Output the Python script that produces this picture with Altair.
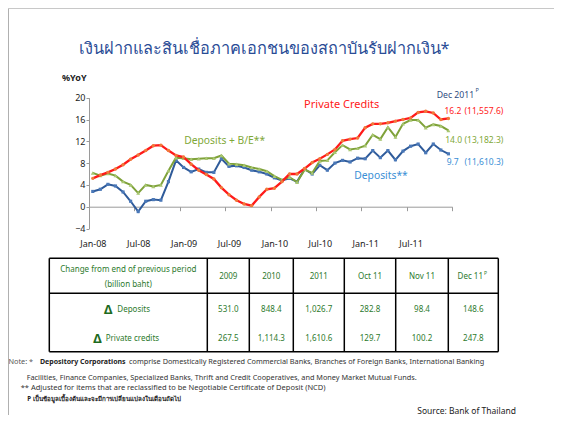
import json
import altair as alt
import pandas as pd

# ---------------- data ----------------
months = pd.date_range("2008-01-01", periods=48, freq="MS").strftime("%b-%y").tolist()

private_credits = [5.2, 5.8, 6.3, 6.9, 7.7, 8.7, 9.5, 10.3, 11.2, 11.3, 10.3, 9.4,
                   9.1, 7.8, 6.7, 5.9, 5.1, 3.5, 2.2, 1.2, 0.5, 0.2, 1.8, 3.2,
                   3.4, 4.6, 6.0, 6.0, 7.0, 8.1, 8.8, 9.6, 10.5, 12.1, 12.4, 12.6,
                   14.5, 15.2, 15.2, 15.4, 15.7, 16.0, 16.3, 17.3, 17.5, 17.2, 16.0, 16.2]

deposits_be = [6.2, 5.7, 6.1, 5.7, 4.6, 4.0, 2.5, 4.0, 3.7, 4.0, 6.6, 9.0,
               8.9, 8.7, 8.8, 8.9, 8.9, 9.4, 7.9, 7.8, 7.6, 7.2, 6.9, 6.5,
               5.6, 4.9, 5.4, 4.5, 6.8, 6.2, 8.4, 8.5, 10.0, 11.3, 10.5, 10.7,
               11.2, 13.2, 12.4, 14.6, 12.8, 15.2, 15.9, 15.9, 14.5, 15.1, 14.8, 14.0]

deposits = [2.8, 3.2, 4.1, 3.8, 2.7, 1.0, -0.9, 1.0, 1.3, 1.2, 4.6, 8.5,
            7.2, 6.4, 6.9, 6.3, 6.3, 8.8, 7.4, 7.5, 7.2, 6.7, 6.4, 6.0,
            5.3, 4.8, 5.2, 4.6, 6.9, 6.0, 7.6, 6.7, 8.0, 8.5, 8.2, 8.9,
            8.8, 10.3, 9.0, 10.3, 8.6, 10.2, 11.1, 11.5, 9.9, 11.5, 10.4, 9.7]

x_labels = ["Jan-08", "Jul-08", "Jan-09", "Jul-09", "Jan-10", "Jul-10", "Jan-11", "Jul-11"]
y_ticks = [-4, 0, 4, 8, 12, 16, 20]

table_cols = ["2009", "2010", "2011", "Oct 11", "Nov 11", "Dec 11"]
delta_deposits = ["531.0", "848.4", "1,026.7", "282.8", "98.4", "148.6"]
delta_credits = ["267.5", "1,114.3", "1,610.6", "129.7", "100.2", "247.8"]

title_text = "เงินฝากและสินเชื่อภาคเอกชนของสถาบันรับฝากเงิน*"

# ---------------- layout ----------------
W, H = 546, 407
FONT = "Tahoma, 'Noto Sans', 'DejaVu Sans', sans-serif"
X_RANGE = [81, 444.2]
Y_RANGE = [220.5, 89.7]
ZERO_Y = Y_RANGE[0] - (0 - (-4)) / 24 * (Y_RANGE[0] - Y_RANGE[1])

one = pd.DataFrame({"a": [0]})


def txt(s, x, y, size=9, color="#222", align="left", weight="normal", font=FONT):
    return alt.Chart(one).mark_text(
        text=s, fontSize=size, color=color, align=align, baseline="middle",
        fontWeight=weight, font=font
    ).encode(x=alt.value(x), y=alt.value(y))


def rule(x1, y1, x2, y2, color="#000", w=1.5):
    return alt.Chart(one).mark_rule(color=color, strokeWidth=w).encode(
        x=alt.value(x1), y=alt.value(y1), x2=alt.value(x2), y2=alt.value(y2))


df = pd.DataFrame({
    "idx": list(range(len(months))),
    "month": months,
    "pc": private_credits,
    "dbe": deposits_be,
    "dep": deposits,
})

label_expr = (json.dumps(x_labels + [""]) + "[round((datum.value + 0.5) / 6)]").replace('"', "'")

X = alt.X("idx:Q",
          scale=alt.Scale(domain=[-0.5, 47.5], range=X_RANGE, nice=False, zero=False),
          axis=alt.Axis(values=[-0.5 + 6 * k for k in range(9)], labelExpr=label_expr,
                        labelOffset=3.8, offset=-(H - ZERO_Y), tickSize=4, labelPadding=29,
                        domainColor="#9a9a9a", tickColor="#9a9a9a", grid=False, title=None,
                        labelFontSize=9, labelColor="#222", labelFont=FONT, labelAngle=0,
                        labelFlush=False, labelOverlap=False))

Y = alt.Y("dep:Q",
          scale=alt.Scale(domain=[-4, 20], range=Y_RANGE, nice=False, zero=False),
          axis=alt.Axis(values=y_ticks, offset=-X_RANGE[0], tickSize=3, labelPadding=1,
                        domainColor="#9a9a9a", tickColor="#9a9a9a", grid=False, title=None,
                        labelFontSize=9, labelColor="#222", labelFont=FONT))

blue = alt.Chart(df).mark_line(
    color="#2F5B9A", strokeWidth=2,
    point=alt.OverlayMarkDef(shape="square", filled=True, size=10, color="#4A78B8")
).encode(x=X, y=Y)

green = alt.Chart(df).mark_line(
    color="#7FA23A", strokeWidth=2,
    point=alt.OverlayMarkDef(shape="triangle-up", filled=True, size=16, color="#A9C772")
).encode(x=X, y=alt.Y("dbe:Q"))

red = alt.Chart(df).mark_line(
    color="#FF1A1A", strokeWidth=2.3,
    point=alt.OverlayMarkDef(shape="circle", filled=True, size=12, color="#F07A3A")
).encode(x=X, y=alt.Y("pc:Q"))

layers = [blue, green, red]

# frame
layers += [rule(0.5, 0, 0.5, H, color="#b0b0b0", w=1), rule(0, 0.5, W, 0.5, color="#c8c8c8", w=1)]

# titles / annotations
layers += [
    txt(title_text, 256, 41, size=16.3, color="#2A4C96", align="center"),
    txt("%YoY", 54, 70, size=9, color="#222", weight="bold"),
    txt("Private Credits", 333.7, 97, size=11, color="#FF2020", align="center"),
    txt("Deposits + B/E**", 216.7, 132.7, size=10.3, color="#7FA838", align="center"),
    txt("Deposits**", 373, 167.7, size=10.3, color="#3A8FD6", align="center"),
    txt("Dec 2011", 428.7, 87, size=8.7, color="#2F4C80"),
    txt("P", 467.5, 82, size=5.5, color="#2F4C80"),
    txt("16.2", 436.5, 102.7, size=8.5, color="#FF2020"),
    txt("(11,557.6)", 456.5, 102.7, size=8.5, color="#FF2020"),
    txt("14.0", 437.2, 132, size=8.5, color="#7FA838"),
    txt("(13,182.3)", 456.5, 132, size=8.5, color="#7FA838"),
    txt("9.7", 438.7, 153.7, size=8.5, color="#3A8FD6"),
    txt("(11,610.3)", 456.5, 153.7, size=8.5, color="#3A8FD6"),
]

# table
T_L, T_R, T_T, T_HB, T_B = 41.3, 490.3, 250.3, 285.3, 343.7
col_edges = [41.3, 199.3, 241.3, 285.3, 336.3, 387.7, 440.3, 490.3]
TG = "#2D7A2D"
layers += [rule(T_L, T_T, T_R, T_T), rule(T_L, T_HB, T_R, T_HB), rule(T_L, T_B, T_R, T_B)]
for e in col_edges:
    layers.append(rule(e, T_T, e, T_B))
layers += [
    txt("Change from end of previous period", 120.3, 262, size=8, color=TG, align="center"),
    txt("(billion baht)", 120.3, 277, size=8, color=TG, align="center"),
    txt("Δ", 100.3, 301.5, size=12.5, color="#1E6B1E", align="center", weight="bold"),
    txt("Deposits", 109.3, 302, size=8, color=TG),
    txt("Δ", 89.5, 330.8, size=12.5, color="#1E6B1E", align="center", weight="bold"),
    txt("Private credits", 97.7, 331.3, size=8, color=TG),
]
for i, name in enumerate(table_cols):
    cx = (col_edges[i + 1] + col_edges[i + 2]) / 2
    layers.append(txt(name, cx - (3 if i == 5 else 0), 268.7, size=8, color=TG, align="center"))
    layers.append(txt(delta_deposits[i], cx, 302, size=8, color=TG, align="center"))
    layers.append(txt(delta_credits[i], cx, 331.3, size=8, color=TG, align="center"))
layers.append(txt("P", 476, 265, size=5, color=TG))

# notes
NC = "#333"
layers += [
    txt("Note: *", 0.5, 353.7, size=7.3, color="#555"),
    txt("Depository Corporations", 32, 353.7, size=7, color="#222", weight="bold"),
    txt("comprise Domestically Registered Commercial Banks, Branches of Foreign Banks, International Banking",
        121, 353.7, size=7.3, color=NC),
    txt("Facilities, Finance Companies, Specialized Banks, Thrift and Credit Cooperatives, and Money Market Mutual Funds.",
        18.7, 370, size=7.3, color=NC),
    txt("** Adjusted for items that are reclassified to be Negotiable Certificate of Deposit (NCD)",
        12.7, 380.3, size=7.5, color=NC),
    txt("P เป็นข้อมูลเบื้องต้นและจะมีการเปลี่ยนแปลงในเดือนถัดไป", 19.3, 391.3, size=6.2, color="#222", weight="bold"),
    txt("Source: Bank of Thailand", 508, 403, size=8.5, color="#222", align="right"),
]

chart = alt.layer(*layers).properties(
    width=W, height=H, autosize=alt.AutoSizeParams(type="none"), padding=0
).configure_view(stroke=None)

chart.save("out.html", embed_options={"renderer": "svg", "actions": False})
